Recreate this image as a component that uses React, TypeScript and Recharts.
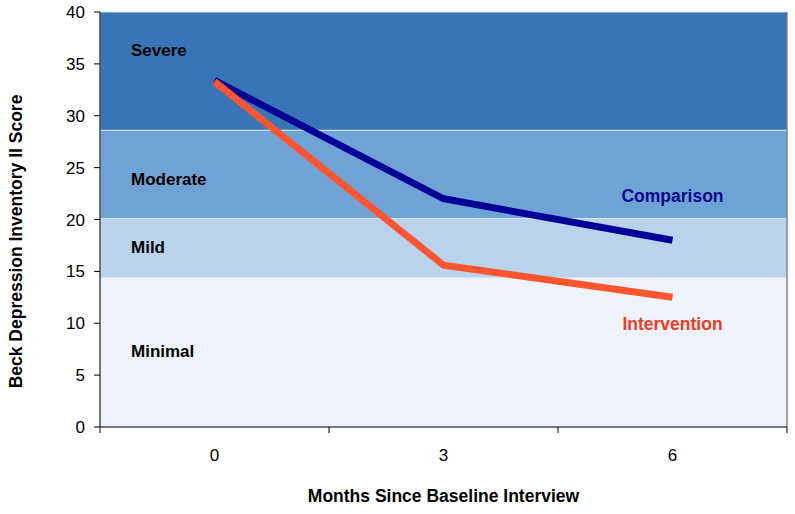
import React from 'react';
import {
  LineChart,
  Line,
  XAxis,
  YAxis,
  ReferenceArea,
  ReferenceLine,
} from 'recharts';

// months since baseline
const months = [0, 3, 6];
const comparison = [33.4, 22.0, 18.0];
const intervention = [33.3, 15.6, 12.5];

const yTicks = [0, 5, 10, 15, 20, 25, 30, 35, 40];
// tick marks sit between the categories, labels on the categories
const xTicks = [-1.5, 0, 1.5, 3, 4.5, 6, 7.5];

const bandNames = ['Minimal', 'Mild', 'Moderate', 'Severe'];
const bandEdges = [0, 14.4, 20.1, 28.6, 40];
const bandColors = ['#eef2fa', '#bad3ec', '#6fa2d5', '#3775b7'];
const bandLabelShift = [-1, -1, 5, -21];

const data = months.map((m, i) => ({
  month: m,
  comparison: comparison[i],
  intervention: intervention[i],
}));

const FONT = '"Liberation Sans", Arial, sans-serif';

function XTick(props: any) {
  const { x, y, payload } = props;
  const v = payload.value;
  if (months.includes(v)) {
    return (
      <text x={x} y={y + 28} textAnchor="middle" fontSize={17} fontFamily={FONT} fill="#000">
        {v}
      </text>
    );
  }
  return <line x1={x} x2={x} y1={y - 6} y2={y} stroke="#000" strokeWidth={1} />;
}

function endLabel(text: string, color: string, dy: number) {
  return (props: any) => {
    const { x, y, index } = props;
    if (index !== months.length - 1) return null;
    return (
      <text
        x={x}
        y={y + dy}
        textAnchor="middle"
        dominantBaseline="central"
        fontSize={17.5}
        fontWeight="bold"
        fontFamily={FONT}
        fill={color}
      >
        {text}
      </text>
    );
  };
}

export default function App() {
  return (
    <div style={{ width: 795, height: 514, background: '#fff' }}>
      <style>{`body{margin:0}`}</style>
      <LineChart
        width={795}
        height={514}
        data={data}
        margin={{ top: 12, right: 8, bottom: 0, left: 40 }}
      >
        {bandNames.map((name, i) => (
          <ReferenceArea
            key={name}
            y1={bandEdges[i]}
            y2={bandEdges[i + 1]}
            x1={-1.5}
            x2={7.5}
            fill={bandColors[i]}
            fillOpacity={1}
            stroke="#d8e4f2"
            strokeWidth={1}
            label={{
              value: name,
              position: 'insideLeft',
              offset: 31,
              dy: bandLabelShift[i],
              fontSize: 17,
              fontWeight: 'bold',
              fontFamily: FONT,
              fill: '#000',
            }}
          />
        ))}
        <ReferenceLine x={7.5} stroke="#555" strokeWidth={1} />
        <XAxis
          dataKey="month"
          type="number"
          domain={[-1.5, 7.5]}
          ticks={xTicks}
          interval={0}
          tickLine={false}
          tickSize={6}
          tickMargin={0}
          tick={<XTick />}
          axisLine={{ stroke: '#000' }}
          height={87}
          label={{
            value: 'Months Since Baseline Interview',
            position: 'insideBottom',
            offset: 12,
            fontSize: 17.5,
            fontWeight: 'bold',
            fontFamily: FONT,
            fill: '#000',
          }}
        />
        <YAxis
          domain={[0, 40]}
          ticks={yTicks}
          interval={0}
          width={60}
          tickSize={6}
          tickMargin={9}
          tick={{ fontSize: 17, fontFamily: FONT, fill: '#000' }}
          tickLine={{ stroke: '#000' }}
          axisLine={{ stroke: '#000' }}
          label={{
            value: 'Beck Depression Inventory II Score',
            angle: -90,
            position: 'insideLeft',
            offset: -24,
            dy: 22,
            fontSize: 17.5,
            fontWeight: 'bold',
            fontFamily: FONT,
            fill: '#000',
            style: { textAnchor: 'middle' },
          }}
        />
        <Line
          dataKey="comparison"
          stroke="#000096"
          strokeWidth={7}
          strokeLinecap="butt"
          strokeLinejoin="miter"
          dot={false}
          isAnimationActive={false}
          label={endLabel('Comparison', '#0a0a8c', -44)}
        />
        <Line
          dataKey="intervention"
          stroke="#ff5530"
          strokeWidth={7}
          strokeLinecap="butt"
          strokeLinejoin="miter"
          dot={false}
          isAnimationActive={false}
          label={endLabel('Intervention', '#f03c1e', 27)}
        />
      </LineChart>
    </div>
  );
}
